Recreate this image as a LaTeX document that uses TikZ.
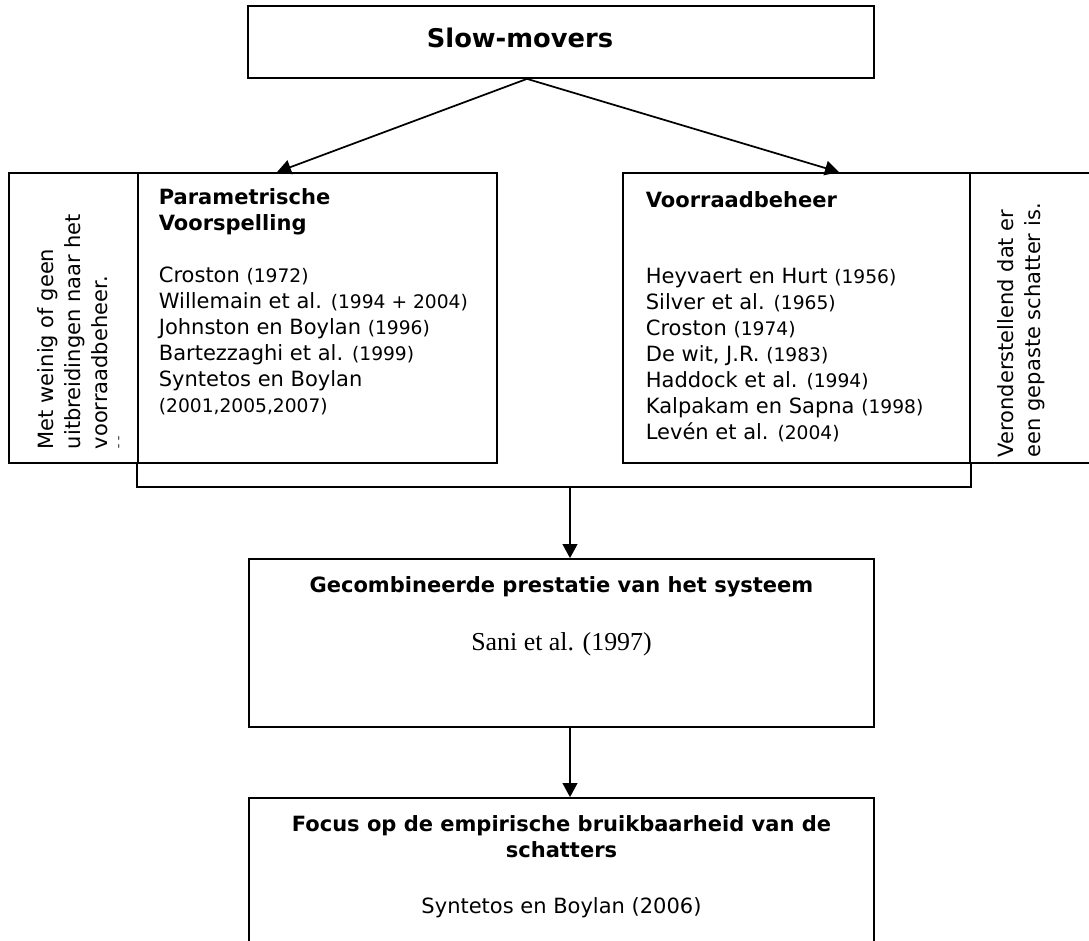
\documentclass[tikz,border=0pt]{standalone}
\usepackage{fontspec}
\setmainfont{DejaVu Sans}
\newfontfamily\seriffont{Liberation Serif}
\usetikzlibrary{positioning}
\usetikzlibrary{arrows.meta}
\tikzset{
    flow chart/.style={
            x=0.75pt,y=-0.75pt,
            line width=1.3pt,
            box/.style={draw,inner sep=0pt},
            arrow/.style={-{Triangle[length=10.5pt,width=11pt]}},
            txt/.style={inner sep=0pt,align=left,font=\fontsize{15.75}{19.5}\selectfont},
            hd/.style={inner sep=0pt,align=center,font=\fontsize{15.75}{19.5}\selectfont\bfseries},
            sidetxt/.style={inner sep=0pt,align=left,rotate=90,anchor=base west,
                font=\fontsize{15.75}{20.25}\selectfont}
        }
    }
\newcommand{\yr}[1]{{\fontsize{14}{19.5}\selectfont(#1)}}

\begin{document}
\begin{tikzpicture}[flow chart]
    \clip (0,0) rectangle (1089,940);
    % boxes
    \node[box,minimum width=469.5pt,minimum height=54pt] (slow) at (561,42) {};
    \node[box,minimum width=96.75pt,minimum height=217.5pt] (note1) at (73.5,318) {};
    \node[box,minimum width=269.25pt,minimum height=217.5pt] (param) at (317.5,318) {};
    \node[box,minimum width=260.25pt,minimum height=217.5pt] (voorraad) at (796.5,318) {};
    \node[box,minimum width=105pt,minimum height=217.5pt] (note2) at (1040,318) {};
    \node[box,minimum width=468.75pt,minimum height=126pt] (comb) at (561.5,643) {};
    \node[box,minimum width=468.75pt,minimum height=151.5pt] (focus) at (561.5,899) {};
    \coordinate (join) at (570,487);

    % texts (base = last line)
    \node[hd,anchor=base,font=\fontsize{19.3}{23}\selectfont\bfseries] (slowtxt) at (520,47) {Slow-movers};
    \node[txt,anchor=base west] (paramtxt) at (158,412)
        {\textbf{Parametrische}\\\textbf{Voorspelling}\\[19.5pt]
         Croston \yr{1972}\\
         Willemain et al. \yr{1994 + 2004}\\
         Johnston en Boylan \yr{1996}\\
         Bartezzaghi et al. \yr{1999}\\
         Syntetos en Boylan\\
         \yr{2001,2005,2007}};
    \node[txt,anchor=base west] (voorraadtxt) at (645,439)
        {\textbf{Voorraadbeheer}\\[37.5pt]
         Heyvaert en Hurt \yr{1956}\\
         Silver et al. \yr{1965}\\
         Croston \yr{1974}\\
         De wit, J.R. \yr{1983}\\
         Haddock et al. \yr{1994}\\
         Kalpakam en Sapna \yr{1998}\\
         Lev\'en et al. \yr{2004}};
    \node[sidetxt] (note1txt) at (134,450)
        {Met weinig of geen\\uitbreidingen naar het\\voorraadbeheer.\\
         \raisebox{5pt}{\fontsize{9}{9}\selectfont ¯\,¯}};
    \node[sidetxt] (note2txt) at (1040,458)
        {Veronderstellend dat er\\een gepaste schatter is.};
    \node[hd,anchor=base] (combtxt) at (561.5,592) {Gecombineerde prestatie van het systeem};
    \node[anchor=base,inner sep=0pt,font=\seriffont\fontsize{19.4}{23}\selectfont] (sanitxt) at (561.5,650) {Sani et al. (1997)};
    \node[hd,anchor=base] (focustxt) at (561.5,857) {Focus op de empirische bruikbaarheid van de\\schatters};
    \node[txt,anchor=base] (syntxt) at (561.5,913) {Syntetos en Boylan (2006)};

    % connectors
    \draw [arrow] ([xshift=-25.5pt]slow.south) -- ([xshift=-30.4pt]param.north);
    \draw [arrow] ([xshift=-25.5pt]slow.south) -- ([xshift=31.9pt]voorraad.north);
    \draw (param.south west) |- (join) -| (voorraad.south east);
    \draw [arrow] (join) -- (join |- comb.north);
    \draw [arrow] (join |- comb.south) -- (join |- focus.north);
\end{tikzpicture}
\end{document}
